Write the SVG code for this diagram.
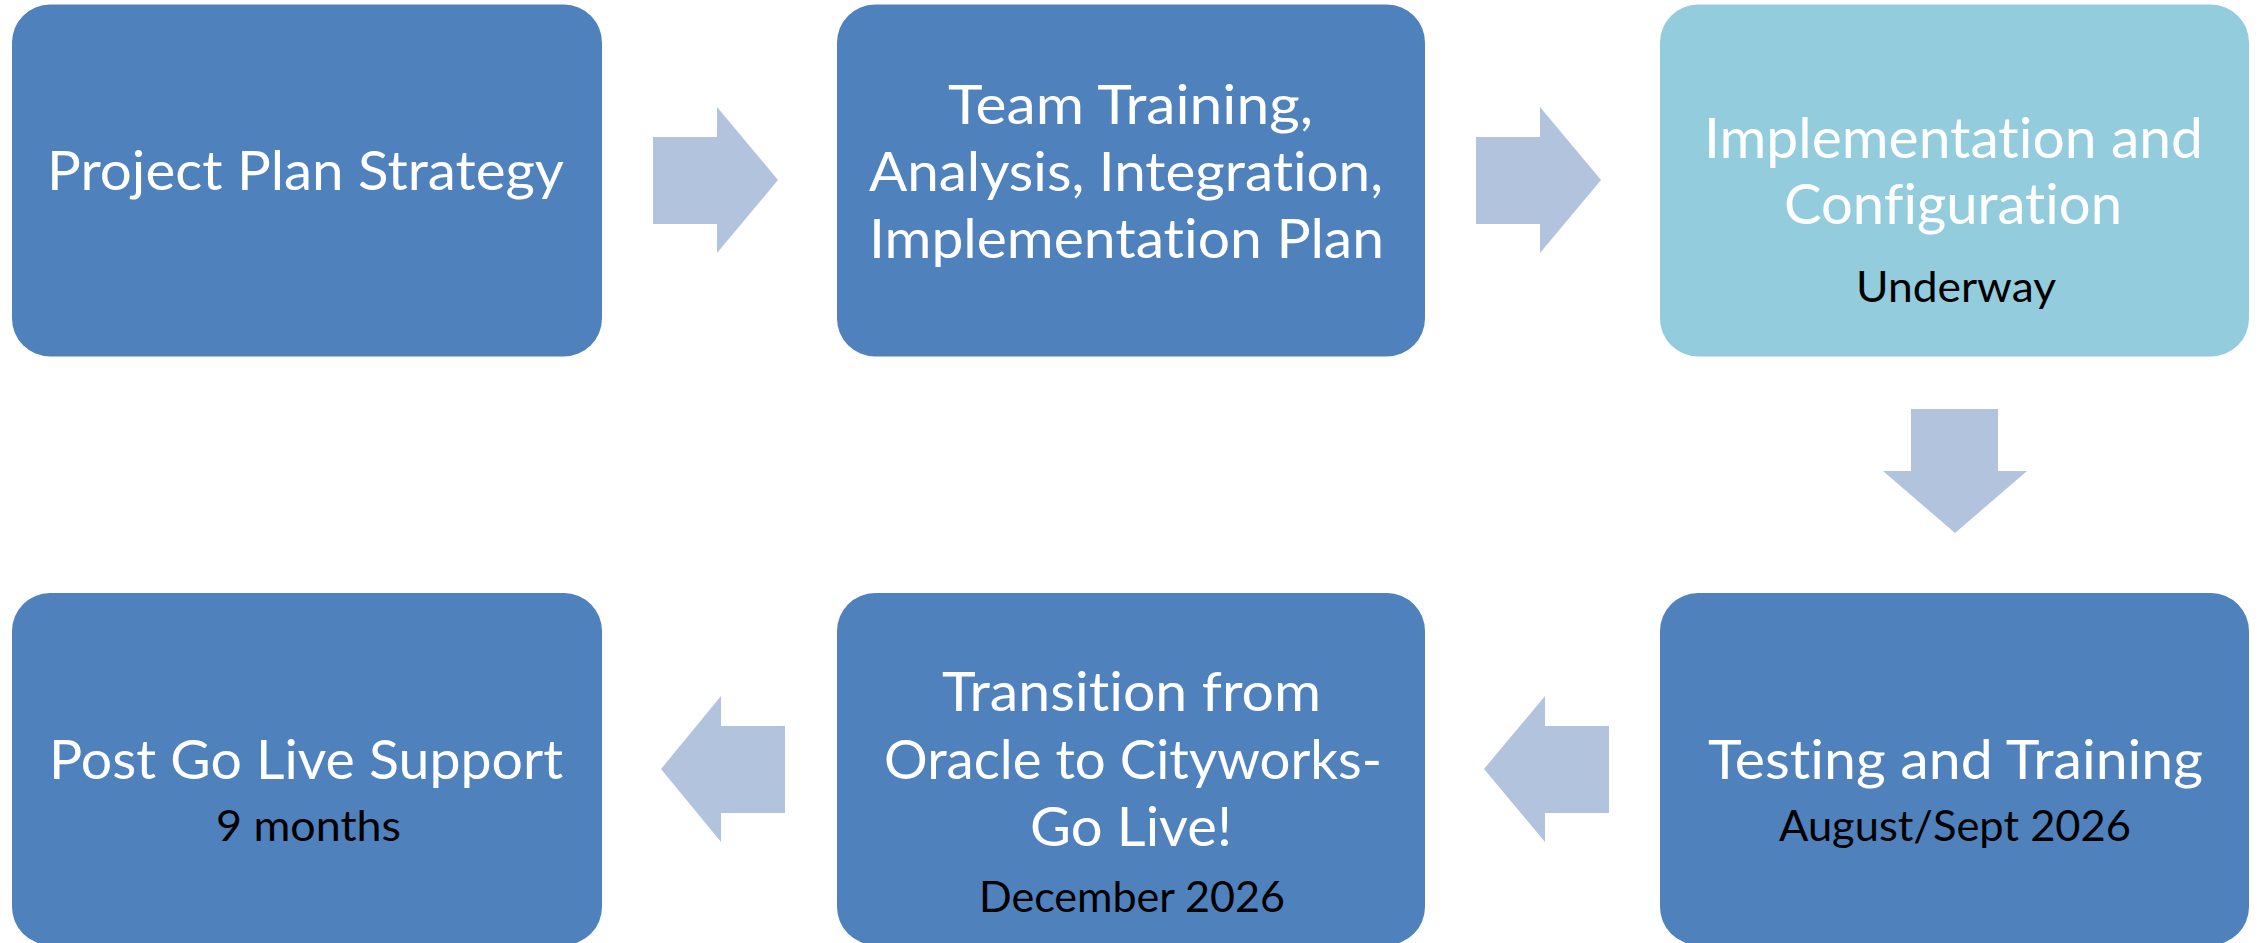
<svg xmlns="http://www.w3.org/2000/svg" width="2262" height="943" viewBox="0 0 2262 943">
  <style>
    .box { fill: #4F81BD; }
    .box.light { fill: #93CDDD; }
    .arrow { fill: #B2C3DE; }
    text { font-variant-ligatures: none; font-feature-settings: "liga" 0, "clig" 0, "dlig" 0; }
    .t { font-family: Lato, "Open Sans", "Liberation Sans", sans-serif; fill: #FFFFFF; font-size: 54px; }
    .t.big { font-size: 56.5px; }
    .s { font-family: Lato, "Open Sans", "Liberation Sans", sans-serif; fill: #000000; font-size: 42px; }
  </style>
  <rect width="2262" height="943" fill="#FFFFFF"/>
  <g id="connectors">
    <polygon class="arrow" points="653,137 717,137 717,107 778,180 717,253 717,224 653,224"/>
    <polygon class="arrow" points="1476,137 1540,137 1540,107 1601,180 1540,253 1540,224 1476,224"/>
    <polygon class="arrow" points="1911,409 1998,409 1998,471 2027,471 1955,533 1883,471 1911,471"/>
    <polygon class="arrow" points="1609,726 1545,726 1545,696 1484,769 1545,842 1545,813 1609,813"/>
    <polygon class="arrow" points="785,726 721,726 721,696 661,769 721,842 721,813 785,813"/>
  </g>
  <g id="node-project-plan">
    <rect class="box" x="12" y="4.5" width="590" height="352" rx="38" ry="38"/>
    <text class="t" x="47" y="190" textLength="517" lengthAdjust="spacingAndGlyphs">Project Plan Strategy</text>
  </g>
  <g id="node-team-training">
    <rect class="box" x="837" y="4.5" width="588" height="352" rx="38" ry="38"/>
    <text class="t" x="948" y="124" textLength="365" lengthAdjust="spacingAndGlyphs">Team Training,</text>
    <text class="t" x="869" y="191" textLength="514" lengthAdjust="spacingAndGlyphs">Analysis, Integration,</text>
    <text class="t" x="869" y="258" textLength="515" lengthAdjust="spacingAndGlyphs">Implementation Plan</text>
  </g>
  <g id="node-implementation">
    <rect class="box light" x="1660" y="4.5" width="589" height="352" rx="38" ry="38"/>
    <text class="t big" x="1704" y="158" textLength="499" lengthAdjust="spacingAndGlyphs">Implementation and</text>
    <text class="t big" x="1784" y="224" textLength="338" lengthAdjust="spacingAndGlyphs">Configuration</text>
    <text class="s" x="1856" y="302" textLength="200" lengthAdjust="spacingAndGlyphs">Underway</text>
  </g>
  <g id="node-testing">
    <rect class="box" x="1660" y="593" width="589" height="352" rx="38" ry="38"/>
    <text class="t" x="1708" y="779" textLength="495" lengthAdjust="spacingAndGlyphs">Testing and Training</text>
    <text class="s" x="1779" y="841" textLength="352" lengthAdjust="spacingAndGlyphs">August/Sept 2026</text>
  </g>
  <g id="node-transition">
    <rect class="box" x="837" y="593" width="588" height="352" rx="38" ry="38"/>
    <text class="t" x="942" y="711" textLength="379" lengthAdjust="spacingAndGlyphs">Transition from</text>
    <text class="t" x="884" y="779" textLength="498" lengthAdjust="spacingAndGlyphs">Oracle to Cityworks-</text>
    <text class="t" x="1030" y="846" textLength="202" lengthAdjust="spacingAndGlyphs">Go Live!</text>
    <text class="s" x="979" y="912" textLength="306" lengthAdjust="spacingAndGlyphs">December 2026</text>
  </g>
  <g id="node-post-go-live">
    <rect class="box" x="12" y="593" width="590" height="352" rx="38" ry="38"/>
    <text class="t" x="49" y="779" textLength="514" lengthAdjust="spacingAndGlyphs">Post Go Live Support</text>
    <text class="s" x="216" y="841" textLength="185" lengthAdjust="spacingAndGlyphs">9 months</text>
  </g>
</svg>
